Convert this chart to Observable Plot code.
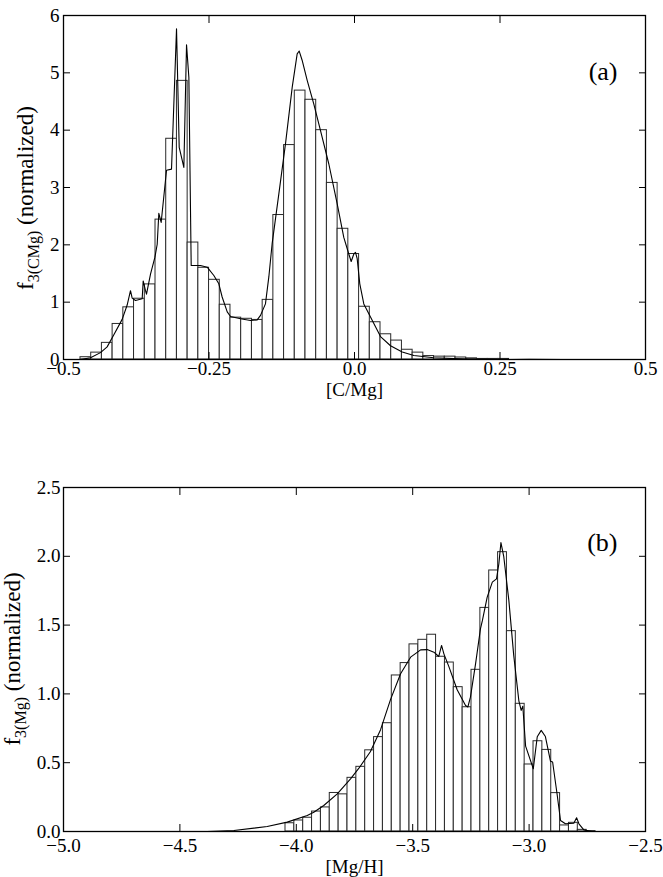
<!DOCTYPE html>
<html><head><meta charset="utf-8">
<script src="https://cdn.jsdelivr.net/npm/d3@7"></script>
<script src="https://cdn.jsdelivr.net/npm/@observablehq/plot@0.6"></script>
<style>
html,body{margin:0;padding:0;background:#fff;}
#chart svg{display:block;}
#chart svg text{font-family:"Liberation Serif","Times New Roman",serif;}
</style></head><body><div id="chart"></div>
<script>
// ---------- Panel (a): [C/Mg] ----------
const cmgEdges = [-0.4708,-0.4524,-0.4340,-0.4156,-0.3972,-0.3788,-0.3603,-0.3419,-0.3235,-0.3051,
  -0.2867,-0.2683,-0.2499,-0.2315,-0.2131,-0.1947,-0.1762,-0.1578,-0.1394,-0.1210,
  -0.1026,-0.0842,-0.0658,-0.0474,-0.0290,-0.0106,0.0079,0.0263,0.0447,0.0631,
  0.0815,0.0999,0.1183,0.1367,0.1551,0.1736,0.1920,0.2104,0.2288,0.2472,0.2656];
const cmgValues = [0.04,0.12,0.29,0.62,0.91,1.06,1.31,2.44,3.85,4.86,
  2.04,1.60,1.39,0.955,0.73,0.71,0.69,1.04,2.52,3.74,
  4.69,4.53,4.00,3.08,2.28,1.84,0.92,0.65,0.44,0.33,
  0.17,0.12,0.06,0.05,0.05,0.035,0.02,0.01,0.01,0.01];
const cmgCurveX = [-0.4708,-0.4536,-0.4364,-0.425,-0.4135,-0.3992,-0.3906,-0.3849,-0.382,-0.3763,
  -0.3648,-0.3631,-0.3591,-0.3574,-0.3505,-0.343,-0.339,-0.3362,-0.3322,-0.323,
  -0.3144,-0.3058,-0.3012,-0.2932,-0.2886,-0.2846,-0.2806,-0.2646,-0.2531,-0.2417,
  -0.2331,-0.2274,-0.2187,-0.213,-0.1959,-0.1787,-0.1672,-0.1615,-0.153,-0.1472,
  -0.1415,-0.130,-0.1186,-0.107,-0.0985,-0.095,-0.090,-0.0813,-0.070,-0.0584,
  -0.0441,-0.0298,-0.0184,-0.0098,-0.0057,-0.0012,0.0017,0.0046,0.0091,0.016,
  0.0275,0.0447,0.0619,0.082,0.102,0.136,0.194,0.25,0.30,0.36];
const cmgCurveY = [0.0,0.03,0.12,0.22,0.43,0.70,0.95,1.2,1.07,1.03,
  1.06,1.37,1.2,1.14,1.49,1.78,2.01,2.55,2.39,3.3,
  3.32,5.77,3.7,3.35,5.49,4.92,1.64,1.64,1.61,1.465,
  1.32,1.09,0.83,0.75,0.71,0.68,0.69,0.77,0.97,1.44,
  2.02,2.89,3.76,4.75,5.33,5.38,5.22,4.87,4.46,3.99,
  3.41,2.72,2.13,1.84,1.71,1.84,1.87,1.76,1.32,0.97,
  0.74,0.40,0.24,0.13,0.07,0.03,0.006,0.0,0.004,0.0];
const cmgXTicks = [-0.5,-0.25,0,0.25,0.5];
const cmgXTickLabels = ["\u22120.5","\u22120.25","0.0","0.25","0.5"];
const cmgYTicks = [0,1,2,3,4,5,6];
const cmgYTickLabels = ["0","1","2","3","4","5","6"];

// ---------- Panel (b): [Mg/H] ----------
const mghEdges = [-4.0464,-4.0084,-3.9703,-3.9323,-3.8942,-3.8562,-3.8181,-3.7801,-3.7420,-3.7040,
  -3.6659,-3.6279,-3.5898,-3.5518,-3.5137,-3.4757,-3.4376,-3.3996,-3.3615,-3.3235,
  -3.2854,-3.2474,-3.2093,-3.1713,-3.1332,-3.0952,-3.0571,-3.0191,-2.9810,-2.9430,
  -2.9049,-2.8669,-2.8288,-2.7908,-2.7527,-2.7147];
const mghValues = [0.06,0.08,0.10,0.145,0.175,0.28,0.27,0.39,0.47,0.59,
  0.686,0.787,1.134,1.224,1.36,1.393,1.43,1.27,1.228,1.049,
  0.903,1.175,1.625,1.897,2.03,1.456,0.928,0.487,0.656,0.593,
  0.279,0.044,0.063,0.012,0.003];
const mghCurveX = [-4.383,-4.268,-4.125,-4.039,-3.953,-3.925,-3.882,-3.824,-3.767,-3.731,
  -3.682,-3.638,-3.595,-3.552,-3.509,-3.466,-3.438,-3.409,-3.388,-3.376,
  -3.366,-3.345,-3.309,-3.273,-3.263,-3.252,-3.230,-3.209,-3.201,-3.180,
  -3.158,-3.140,-3.130,-3.121,-3.109,-3.087,-3.066,-3.044,-3.034,-3.027,
  -3.015,-2.982,-2.965,-2.948,-2.930,-2.908,-2.899,-2.880,-2.865,-2.844,
  -2.808,-2.796,-2.786,-2.765,-2.73];
const mghCurveY = [0,0.007,0.036,0.068,0.116,0.14,0.189,0.274,0.383,0.46,
  0.58,0.74,0.96,1.146,1.267,1.320,1.322,1.303,1.272,1.352,
  1.291,1.200,1.030,0.916,0.905,0.976,1.218,1.473,1.53,1.703,
  1.812,1.836,1.945,2.10,2.00,1.68,1.28,0.95,0.88,0.91,
  0.62,0.456,0.689,0.735,0.69,0.51,0.505,0.274,0.08,0.056,
  0.06,0.10,0.056,0.012,0];
const mghXTicks = [-5,-4.5,-4,-3.5,-3,-2.5];
const mghXTickLabels = ["\u22125.0","\u22124.5","\u22124.0","\u22123.5","\u22123.0","\u22122.5"];
const mghYTicks = [0,0.5,1,1.5,2,2.5];
const mghYTickLabels = ["0.0","0.5","1.0","1.5","2.0","2.5"];

const FONT = '"Liberation Serif", "Times New Roman", serif';

function panel(cfg) {
  const bars = cfg.values.map((v, i) => ({x1: cfg.edges[i], x2: cfg.edges[i + 1], v}));
  const curve = cfg.curveX.map((x, i) => ({x, y: cfg.curveY[i]}));
  const fmtX = d => cfg.xTickLabels[cfg.xTicks.indexOf(d)];
  const fmtY = d => cfg.yTickLabels[cfg.yTicks.indexOf(d)];
  const svg = Plot.plot({
    width: 663,
    height: cfg.height,
    marginLeft: 63,
    marginRight: 18,
    marginTop: cfg.marginTop,
    marginBottom: cfg.marginBottom,
    style: {fontFamily: FONT, fontSize: "19px", background: "white", color: "black"},
    x: {domain: cfg.xDomain, label: null},
    y: {domain: cfg.yDomain, label: null},
    marks: [
      Plot.rectY(bars, {x1: "x1", x2: "x2", y: "v", fill: "white", stroke: "#2a2a2a", strokeWidth: 1}),
      Plot.line(curve, {x: "x", y: "y", stroke: "black", strokeWidth: 1.1, curve: "linear"}),
      Plot.frame({stroke: "black", strokeWidth: 1.3}),
      Plot.axisX({anchor: "bottom", ticks: cfg.xTicks, tickFormat: fmtX, tickSize: -7, tickPadding: 7 + cfg.xPad, label: null}),
      Plot.axisX({anchor: "top", ticks: cfg.xTicks, tickFormat: () => "", tickSize: -7, label: null}),
      Plot.axisY({anchor: "left", ticks: cfg.yTicks, tickFormat: fmtY, tickSize: -7, tickPadding: 7 + cfg.yPad, label: null}),
      Plot.axisY({anchor: "right", ticks: cfg.yTicks, tickFormat: () => "", tickSize: -7, label: null}),
      Plot.text([cfg.xLabel], {frameAnchor: "bottom", text: d => d, dy: cfg.xLabelDy, lineAnchor: "middle", fontSize: 19}),
      Plot.text([cfg.panelLabel], {frameAnchor: "top-right", text: d => d, dx: -28, dy: cfg.panelDy, textAnchor: "end", lineAnchor: "middle", fontSize: 26})
    ]
  });
  // y axis label with subscript
  const t = d3.select(svg).append("text")
    .attr("transform", `translate(${cfg.yLabelX},${cfg.yLabelY}) rotate(-90)`)
    .attr("text-anchor", "middle")
    .attr("fill", "black")
    .style("font-family", FONT)
    .style("font-size", "23px");
  t.append("tspan").text("f");
  t.append("tspan").attr("dy", 6).style("font-size", "16px").text(cfg.yLabelSub);
  t.append("tspan").attr("dy", -6).text(" (normalized)");
  return svg;
}

const root = document.getElementById("chart");
root.appendChild(panel({
  edges: cmgEdges, values: cmgValues, curveX: cmgCurveX, curveY: cmgCurveY,
  xDomain: [-0.5, 0.5], yDomain: [0, 6],
  xTicks: cmgXTicks, xTickLabels: cmgXTickLabels, yTicks: cmgYTicks, yTickLabels: cmgYTickLabels,
  height: 438, marginTop: 15, marginBottom: 79, xPad: 2, yPad: 4,
  xLabel: "[C/Mg]", xLabelDy: 30, panelLabel: "(a)", panelDy: 56,
  yLabelSub: "3(CMg)", yLabelX: 33, yLabelY: 198
}));
root.appendChild(panel({
  edges: mghEdges, values: mghValues, curveX: mghCurveX, curveY: mghCurveY,
  xDomain: [-5, -2.5], yDomain: [0, 2.5],
  xTicks: mghXTicks, xTickLabels: mghXTickLabels, yTicks: mghYTicks, yTickLabels: mghYTickLabels,
  height: 439, marginTop: 49, marginBottom: 46, xPad: 7, yPad: 3,
  xLabel: "[Mg/H]", xLabelDy: 35, panelLabel: "(b)", panelDy: 55,
  yLabelSub: "3(Mg)", yLabelX: 20, yLabelY: 221
}));
</script></body></html>
